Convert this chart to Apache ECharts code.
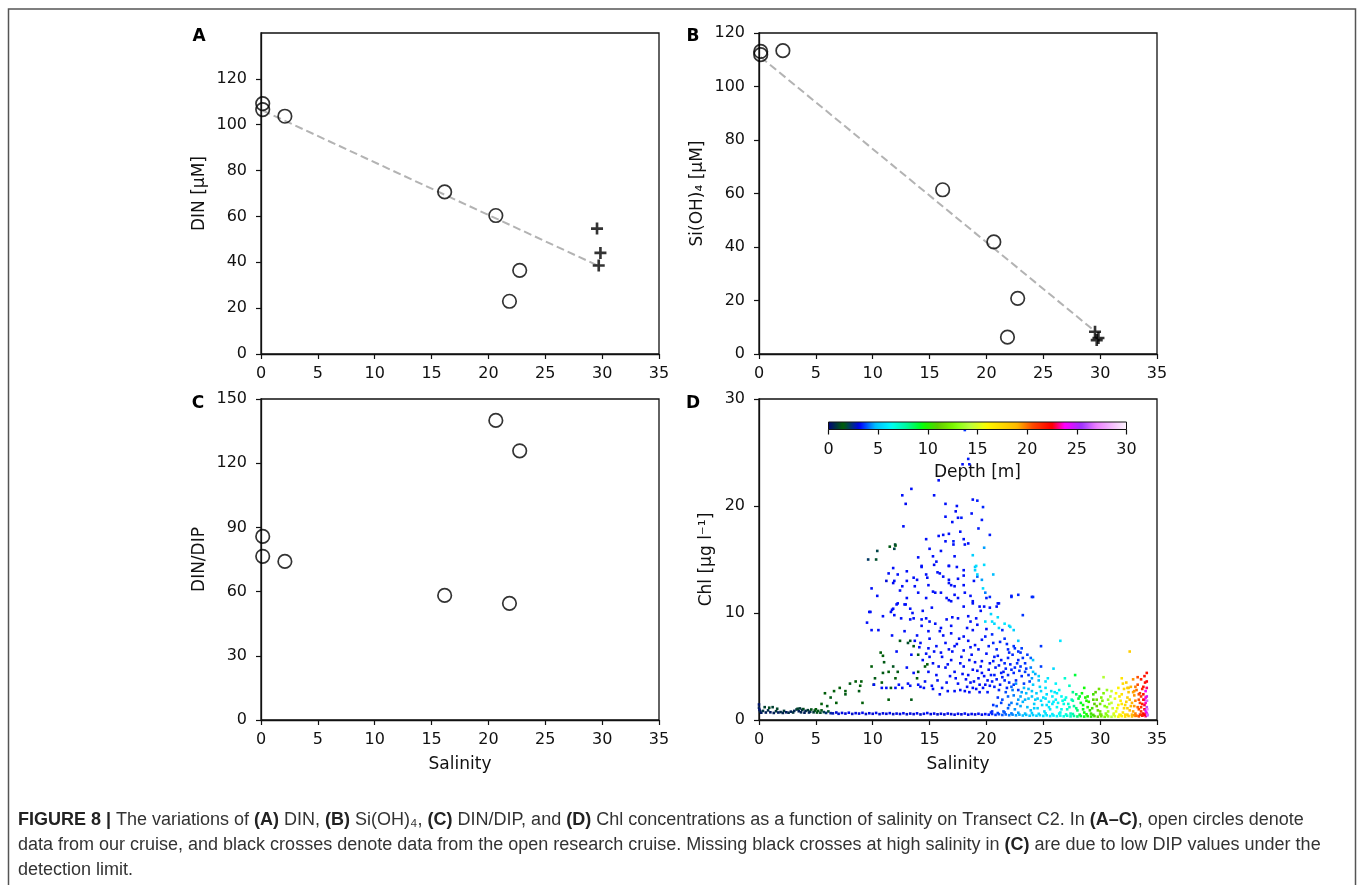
<!DOCTYPE html>
<html><head><meta charset="utf-8">
<script src="https://cdn.jsdelivr.net/npm/echarts@6/dist/echarts.min.js"></script>
<style>html,body{margin:0;padding:0;background:#fff}#c{width:1357px;height:885px}</style>
</head><body><div id="c"></div>
<script>
// ---------------- DATA ----------------
const xTicks = [0, 5, 10, 15, 20, 25, 30, 35];
const yTicksA = [0, 20, 40, 60, 80, 100, 120];
const depthTicks = [0, 5, 10, 15, 20, 25, 30];

// our cruise (open circles)
const salOur = [0.15, 0.15, 2.1, 16.15, 20.65, 21.85, 22.75];
const dinOur = [109.2, 106.6, 103.7, 70.7, 60.4, 23.0, 36.5];
const siOur = [113.1, 111.9, 113.4, 61.4, 41.9, 6.3, 20.8];
const ratioOur = [85.8, 76.5, 74.1, 58.2, 140.0, 54.5, 125.8];
// open research cruise (crosses)
const salOpen = [29.55, 29.85, 29.7];
const dinOpen = [54.7, 44.1, 38.6];
const siOpen = [8.3, 6.0, 5.2];
// mixing lines (end points)
const mixDIN = [[0.15, 106.2], [29.6, 38.6]];
const mixSi = [[0.15, 111.0], [29.6, 8.3]];

// Panel D : [salinity, Chl, depth]
const chlBand = [
[0.0,1.45,0.3],[0.0,1.15,0.5],[0.05,0.95,0.2],[0.1,0.8,0.6],[0.2,0.68,0.4],[0.35,0.85,0.8],[0.5,1.2,1.0],[0.6,0.7,0.5],[0.8,0.9,0.7],[0.9,1.15,1.2],[1.0,0.72,0.4],[1.2,1.2,1.0],[1.3,0.66,0.5],[1.5,0.82,0.9],[1.6,1.05,1.1],[1.7,0.7,0.4],[1.9,0.74,0.7],[2.1,0.66,0.6],[2.2,0.85,0.9],[2.4,0.72,0.4],[2.6,0.68,0.7],[2.8,0.78,0.5],[3.0,0.7,0.8],[3.1,0.85,0.6],[3.3,0.98,0.8],[3.4,1.05,1.1],[3.5,0.82,0.5],[3.6,1.08,0.9],[3.7,0.72,0.6],[3.8,0.95,0.7],[3.9,1.02,1.2],[4.0,0.68,0.5],[4.1,0.85,0.6],[4.3,0.92,1.0],[4.4,0.7,0.5],[4.5,0.78,0.7],[4.6,0.98,1.3],[4.8,0.72,0.9],[4.9,0.88,1.2],[5.0,1.0,1.5],[5.1,0.7,1.3],[5.2,0.85,1.6],[5.4,0.68,1.8],[5.5,0.9,1.6],[5.7,0.74,2.0],[5.9,0.66,2.3],[6.1,0.8,1.8],[6.3,0.64,2.6],
[6.5,0.62,2.8],[6.8,0.7,3.0],[7.0,0.58,2.9],[7.3,0.66,3.1],[7.6,0.6,3.0],[7.9,0.68,3.2],[8.2,0.57,2.9],[8.5,0.64,3.1],[8.8,0.6,3.0],[9.1,0.67,3.2],[9.4,0.56,2.9],[9.7,0.63,3.1],[10.0,0.58,3.0],[10.3,0.66,3.2],[10.6,0.55,2.9],[10.9,0.62,3.1],[11.2,0.58,3.0],[11.5,0.64,3.2],[11.8,0.55,2.9],[12.1,0.6,3.1],[12.4,0.56,3.0],[12.7,0.63,3.2],[13.0,0.54,2.9],[13.3,0.6,3.1],[13.6,0.55,3.0],[13.9,0.62,3.2],[14.2,0.52,2.9],[14.5,0.58,3.1],[14.8,0.65,3.3],[15.1,0.55,3.0],[15.4,0.6,3.2],[15.7,0.53,2.9],[16.0,0.58,3.1],[16.3,0.52,3.0],[16.6,0.6,3.2],[16.9,0.55,3.0],[17.2,0.5,3.1],[17.5,0.58,3.2],[17.8,0.53,3.0],[18.1,0.6,3.3],[18.4,0.5,3.1],[18.7,0.56,3.2],[19.0,0.52,3.0],[19.3,0.58,3.3],[19.6,0.5,3.1],[19.9,0.55,3.3],
[20.2,0.5,3.4],[20.5,0.56,3.5],[20.8,0.48,3.6],[21.1,0.54,3.8],[21.4,0.47,3.9],[21.7,0.52,4.0],[22.0,0.45,4.2],[22.3,0.5,4.3],[22.6,0.44,4.5],[22.9,0.5,4.6],[23.2,0.42,4.8],[23.5,0.48,4.9],[23.8,0.4,5.0],[24.1,0.46,5.2],[24.4,0.4,5.3],[24.7,0.45,5.5],[25.0,0.38,5.6],[25.3,0.44,5.8],[25.6,0.37,5.9],[25.9,0.42,6.0],[26.2,0.36,6.2],[26.5,0.41,6.4],[26.8,0.35,6.6],
[27.1,0.4,6.9],[27.4,0.34,7.2],[27.7,0.38,7.8],[28.0,0.33,8.4],[28.3,0.37,9.0],[28.6,0.32,9.4],[28.9,0.36,9.8],[29.2,0.32,10.2],[29.5,0.36,10.8],[29.8,0.31,11.3],[30.1,0.35,12.0],[30.4,0.3,12.6],[30.7,0.34,13.4],[31.0,0.3,14.2],[31.3,0.35,15.0],[31.6,0.31,15.8],[31.9,0.36,16.5],[32.2,0.32,17.2],[32.5,0.37,18.0],[32.8,0.33,18.8],[33.1,0.38,19.6],[33.4,0.34,20.4],[33.7,0.4,21.2],[34.0,0.36,23.0],[34.15,0.45,25.5],
[20.4,0.7,3.5],[21.0,0.65,3.7],[21.6,0.7,3.9],[22.2,0.62,4.2],[22.8,0.68,4.5],[23.4,0.6,4.8],[24.0,0.65,5.1],[24.6,0.58,5.4],[25.2,0.62,5.7],[25.8,0.55,6.0],[26.4,0.6,6.3],[27.0,0.52,6.8],[27.6,0.56,7.6],[28.2,0.5,8.8],[28.8,0.54,9.7],[29.4,0.48,10.6],[30.0,0.52,11.8],[30.6,0.46,13.2],[31.2,0.5,14.8],[31.8,0.45,16.4],[32.4,0.5,17.8],[33.0,0.45,19.5],[33.6,0.5,21.2],[34.1,0.6,25.0]
];
const chlArm = [
[5.5,1.5,1.5],[6.0,1.3,1.6],[6.8,1.6,1.5],[5.8,2.5,1.5],[6.3,2.1,1.6],[7.1,3.0,1.5],[7.6,2.7,1.5],[8.0,3.4,1.6],[8.5,3.6,1.5],[8.9,3.2,1.5],[8.8,2.7,1.6],[9.1,1.6,1.5],[10.1,3.3,1.7],[9.9,5.0,1.5],[10.9,6.0,1.5],[10.9,4.4,1.6],[11.4,4.5,1.5],[11.8,5.0,1.7],[12.4,7.4,1.6],[13.1,7.2,1.8],[14.0,6.1,1.6],[14.6,5.0,1.5],[13.4,1.9,1.6],[11.4,1.9,1.5],[10.7,6.3,1.5],[11.0,5.4,1.6],[12.2,4.5,1.6],[12.0,3.9,1.5],[11.6,3.0,1.6],[10.8,3.5,1.5],[10.2,3.9,1.6],[9.0,3.6,1.5],[7.6,2.4,1.6],[6.6,2.7,1.5],[13.3,7.4,1.7],[13.6,6.9,1.6],[14.8,5.2,1.5],[14.0,4.5,1.6],[13.9,3.9,1.5],[12.0,16.3,1.5],[11.5,16.2,1.6]
];
const chlBloom = [
[18.1,27.1,3.6],[18.4,24.4,3.4],[17.9,23.9,3.3],[18.5,23.9,3.3],[15.8,22.4,3.3],[13.4,21.6,3.3],[12.6,21.0,3.3],[12.9,20.2,3.2],[15.4,21.0,3.3],[16.4,20.2,3.3],[17.4,20.0,3.3],[17.3,19.5,3.2],[17.5,18.9,3.3],[17.8,18.9,3.4],[18.8,20.6,3.3],[19.2,20.5,3.4],[19.7,19.9,3.5],[19.6,18.7,3.4],[12.7,18.1,3.3],[20.3,17.3,3.4],[11.97,16.4,1.8],[11.9,16.0,2.0],[10.4,15.8,2.0],[9.6,15.0,2.2],[10.3,15.0,1.8],[14.7,16.9,3.3],[15.0,16.0,3.3],[15.3,15.3,3.3],[15.4,14.5,3.2],[15.8,17.2,3.3],[16.2,17.3,3.3],[16.7,17.4,3.3],[16.4,16.7,3.3],[17.1,16.4,3.3],[17.1,16.7,3.4],[18.0,16.9,3.3],[18.1,16.4,3.3],[18.4,16.5,3.3],[18.8,15.4,5.2],[19.8,16.1,4.5],[19.8,14.5,5.5],[19.0,14.3,5.0],[19.0,14.0,5.4],[17.2,15.3,3.3],[17.4,14.3,3.3],[16.7,14.4,3.3],[14.3,14.3,3.3],[13.6,13.3,3.3],[13.0,13.0,3.3],[13.9,13.1,3.3],[14.8,13.3,3.3],[15.7,13.8,3.3],[16.2,13.4,3.3],[16.7,13.1,3.3],[16.9,12.6,3.3],[17.5,13.2,3.3],[18.0,13.5,3.3],[19.2,13.4,4.0],[19.6,13.1,4.5],[20.6,13.6,4.8],[19.7,12.3,5.5],[20.3,11.5,3.5],[21.1,10.9,3.4],[22.2,11.5,3.5],[22.8,11.7,3.5],[24.1,11.5,3.6],[11.2,13.0,3.0],[11.8,12.8,3.2],[12.4,12.1,3.3],[12.1,10.8,3.3],[11.8,10.4,3.3],[9.9,12.3,3.3],[10.4,11.6,3.3],[9.7,10.1,3.3],[9.5,9.1,3.3],[10.9,9.7,3.3],[11.6,10.1,3.3],[12.5,9.5,3.3],[12.8,10.8,3.3],[13.3,10.4,3.3],[13.6,9.5,3.3],[14.4,10.2,3.3],[14.7,9.5,3.3],[15.3,12.0,3.3],[16.0,11.9,3.3],[16.5,11.4,3.3],[16.9,11.1,3.3],[17.5,11.4,3.3],[18.0,10.6,3.3],[18.6,11.6,3.3],[18.8,10.9,3.3],[19.4,10.6,3.3],[20.0,11.4,3.4],[20.3,10.5,3.3],[20.9,10.6,3.3],
[15.6,14.8,3.3],[16.7,14.4,3.3],[11.8,14.2,3.3],[11.4,13.7,3.3],[13.0,13.9,3.3],[14.3,14.4,3.3],[14.7,13.6,3.3],[15.9,13.7,3.3],[18.0,14.0,3.3],[19.1,14.4,5.6],[19.2,13.6,5.5],[11.9,13.0,3.3],[12.6,12.5,3.3],[13.7,12.5,3.3],[14.9,12.6,3.3],[16.7,12.8,3.3],[17.2,12.5,3.3],[18.0,12.6,3.3],[18.9,13.0,3.3],[19.9,11.9,4.2],[12.2,10.9,3.3],[12.9,10.8,3.3],[14.0,11.9,3.3],[14.7,11.4,3.3],[15.5,11.9,3.3],[16.7,11.2,3.3],[17.2,11.7,3.3],[18.1,11.9,3.3],[18.8,11.1,3.3],[19.8,10.6,3.3],[21.0,10.9,3.3],[22.2,11.6,3.4],[24.0,11.5,3.5],
[16.0,8.6,3.3],[18.6,9.2,3.3],[17.0,9.6,3.3],[20.4,9.9,5.3],[21.0,9.6,5.6],[19.5,10.2,3.3],[15.2,10.5,3.3],[13.0,11.4,3.3],[12.2,13.6,3.3],[14.0,15.2,3.3],[16.0,15.8,3.3],[17.7,17.6,3.3],[18.7,19.3,3.3],[19.3,17.9,3.4],[17.0,18.5,3.3],[16.4,19.0,3.3]
];
const chlCore = [
[9.9,8.4,3.3],[10.5,8.4,3.3],[11.7,7.9,3.3],[12.8,8.3,3.3],[14.9,8.3,3.3],[15.9,8.3,3.3],[16.9,8.1,3.3],[18.0,7.8,3.3],[18.8,8.4,3.3],[19.6,7.5,3.4],[20.5,8.0,3.5],[21.6,7.6,3.6],[22.8,7.4,5.0],[22.4,6.9,3.6],[23.1,6.7,3.7],[24.8,6.9,3.6],[26.5,7.4,5.8],[13.7,7.4,3.3],[14.1,6.8,3.3],[14.9,6.7,3.3],[15.6,6.9,3.3],[16.4,7.2,3.3],[17.2,6.9,3.3],[18.4,7.4,3.3],[19.0,7.0,3.3],[20.2,6.9,3.4],[20.9,6.6,3.5],[21.9,6.6,3.5],[22.8,6.4,3.6],[12.1,6.4,3.3],[13.4,6.1,3.3],[15.0,5.9,3.3],[16.1,5.9,3.3],[16.9,5.6,3.3],[17.8,5.9,3.3],[18.7,6.1,3.3],[19.6,5.5,3.3],[20.7,5.9,3.4],[21.3,5.6,3.4],[21.9,5.8,3.5],[22.8,5.6,3.5],[23.4,5.3,3.6],[24.1,5.6,5.0],[24.1,4.5,5.2],[24.8,5.0,3.7],[25.9,4.8,5.5],[13.0,4.9,3.3],[13.6,4.4,3.3],[14.9,4.5,3.3],[15.6,4.2,3.3],[16.4,4.9,3.3],[17.2,4.5,3.3],[18.0,5.0,3.3],[18.4,4.2,3.3],[18.8,4.7,3.3],[19.6,4.4,3.3],[20.2,4.7,3.3],[20.7,4.2,3.4],[21.5,4.5,3.4],[22.4,4.4,3.5],[23.1,4.1,3.5],[23.7,4.2,3.6],[10.1,3.3,3.3],[10.8,3.0,3.3],[11.2,3.0,3.3],[12.0,3.0,3.3],[12.6,3.0,3.3],[13.3,3.2,3.3],[14.0,3.3,3.3],[15.9,2.4,3.3],[17.2,2.7,3.3],[17.7,2.8,3.3],[18.1,2.7,3.3],[18.8,3.0,3.3],[19.1,2.9,3.3],[19.9,3.3,3.3],[20.5,3.6,3.4],[20.7,3.1,3.4],[21.2,3.3,3.4],[21.8,3.0,3.5],[22.2,3.1,4.0],[22.8,2.8,3.6],
[17.5,3.4,3.3],[18.2,3.8,3.3],[18.6,3.5,3.3],[19.3,3.9,3.3],[19.8,4.1,3.3],[20.1,3.7,3.3],[20.4,4.2,3.4],[20.8,4.9,3.4],[21.1,5.1,3.4],[21.4,4.0,3.4],[21.7,4.8,3.5],[22.1,5.2,3.5],[22.5,4.9,3.5],[22.9,4.6,3.6],[23.2,5.8,3.6],[23.5,4.8,3.6],[23.8,3.6,3.7],[22.6,3.7,3.5],[22.0,3.5,3.5],[21.6,3.7,3.5],[19.5,5.0,3.3],[19.0,5.4,3.3],[18.5,5.6,3.3],[20.3,5.3,3.3],[20.0,6.2,3.3],[21.0,6.0,3.4],[22.3,6.1,3.5],[23.0,6.3,3.6],[17.0,6.4,3.3],[16.6,5.2,3.3],[15.3,5.3,3.3],[14.4,5.6,3.3],[13.9,7.9,3.3],[15.0,7.6,3.3],[16.2,7.9,3.3],[17.6,7.6,3.3],[18.3,8.6,3.3],[19.2,8.9,3.3],[20.0,8.5,3.3],[21.1,8.6,5.5],[21.6,9.0,5.8],[22.0,8.8,5.3],[16.9,8.8,3.3],[15.5,9.0,3.3],[14.3,8.8,3.3],
[9.8,10.1,3.3],[11.7,10.3,3.3],[11.9,9.8,3.3],[13.3,9.4,3.3],[13.5,10.0,3.3],[14.3,9.4,3.3],[15.0,9.2,3.3],[16.5,9.4,3.3],[17.5,9.5,3.3],[18.4,9.7,3.3],[19.1,9.5,3.3],[19.9,9.2,5.5],[20.5,9.2,5.6],[20.7,9.0,5.4],[21.4,8.4,3.5],[22.1,8.7,5.6],[22.4,8.4,5.2],[23.2,9.8,3.6],
[14.2,3.1,3.3],[14.6,3.6,3.3],[15.2,3.2,3.3],[15.7,3.7,3.3],[16.1,3.0,3.3],[16.5,3.5,3.3],[16.8,4.1,3.3],[17.3,3.9,3.3],[17.9,4.3,3.3],[18.3,3.1,3.3],[18.9,3.6,3.3],[19.4,3.3,3.3],[19.7,3.0,3.3],[20.3,3.2,3.4],[20.9,3.8,3.4],[21.3,4.4,3.4],[21.9,4.2,3.5],[22.2,4.7,3.5],[22.7,5.3,3.6],[23.0,5.0,3.6],[23.4,4.5,3.7],[23.9,4.9,4.2],[24.3,4.3,4.6],[24.6,3.7,4.8],[23.6,6.1,3.7],[23.9,5.8,4.0],[22.5,6.7,3.6],[21.8,7.1,3.5],[21.2,7.3,3.5],[20.6,7.2,3.5],[19.9,7.8,3.4],[19.3,6.6,3.3],[18.6,6.8,3.3],[18.0,6.5,3.3],[17.4,7.1,3.3],[16.7,6.6,3.3],[16.0,6.3,3.3],[15.4,6.4,3.3],[14.7,6.2,3.3],[14.2,7.2,3.3],[15.8,5.0,3.3],[17.7,5.3,3.3],[19.2,4.6,3.3],[20.6,5.5,3.4],[21.6,5.3,3.5],[22.0,6.3,3.5],[23.3,3.4,3.7],[24.0,3.9,4.5],[22.4,3.3,3.6],[21.1,2.8,3.5],[20.1,2.6,3.4],[19.4,2.6,3.3],[18.5,2.6,3.3],[16.6,2.7,3.3],[15.3,2.9,3.3],[14.5,3.0,3.3],[13.1,3.4,3.3],[12.3,3.3,3.3]
];
const chlShelf = [
[20.6,1.4,3.6],[20.9,1.3,3.8],[21.3,1.6,3.7],[21.9,1.1,4.0],[21.0,2.1,3.6],[20.5,0.8,3.5],[21.5,0.8,3.9],[22.2,1.6,4.2],[22.5,1.0,4.4],[23.0,1.3,4.6],[21.9,2.2,4.0],[22.8,1.9,4.5],[23.2,1.7,4.7],
[23.5,2.5,4.8],[24.0,2.7,5.0],[24.4,2.5,5.2],[24.8,2.7,5.4],[25.3,2.4,5.6],[25.7,2.7,5.8],[26.2,2.5,6.0],[26.6,2.2,6.3],[27.0,2.1,6.6],[27.5,1.9,7.2],[27.9,2.4,8.5],[28.4,2.5,9.5],[28.7,2.1,9.8],[28.9,2.2,10.0],[29.4,2.4,10.5],[29.7,1.9,11.5],[30.1,2.1,12.5],[30.7,1.9,13.5],[31.0,2.7,14.5],[31.4,2.5,16.0],[31.7,2.2,16.5],[32.1,2.9,17.5],[32.3,3.5,18.0],[32.5,3.0,18.5],[32.7,3.1,19.0],[33.0,2.7,19.5],[33.3,3.3,20.5],[33.5,2.5,21.0],[33.6,3.8,21.5],[33.8,3.1,22.0],[33.9,4.1,22.0],[34.0,2.7,24.0],[33.9,1.9,24.5],
[30.3,4.0,14.0],[31.9,3.9,17.0],[34.1,4.4,22.0],[32.6,6.4,18.0],[27.8,4.2,9.0],[26.9,3.9,7.0],[25.4,3.9,5.8],[24.6,4.1,5.4],
[23.6,1.2,4.8],[23.9,0.9,5.0],[24.2,1.5,5.2],[24.5,1.1,5.3],[24.8,1.8,5.5],[25.1,0.8,5.6],[25.3,1.4,5.7],[25.6,1.0,5.9],[25.9,1.7,6.0],[26.2,1.2,6.2],[26.5,0.7,6.4],[26.8,1.5,6.6],[27.1,1.0,7.0],[27.4,0.6,7.3],[27.7,1.3,7.8],[28.0,0.9,8.5],[28.3,1.6,9.2],[28.6,0.7,9.5],[28.9,1.2,10.0],[29.2,0.6,10.5],[29.5,1.5,11.0],[29.8,0.9,11.5],[30.1,0.5,12.0],[30.4,1.3,12.8],[30.7,0.8,13.5],[31.0,1.6,14.5],[31.2,0.6,15.0],[31.5,1.1,15.8],[31.8,1.8,16.5],[32.0,0.7,17.0],[32.2,1.4,17.5],[32.4,2.1,18.0],[32.6,0.9,18.5],[32.8,1.6,19.0],[33.0,2.3,19.5],[33.1,0.6,19.8],[33.3,1.2,20.2],[33.4,1.9,20.5],[33.6,0.8,21.0],[33.7,1.5,21.5],[33.8,2.4,22.0],[33.9,1.0,22.5],[34.0,1.6,23.5],[34.05,0.7,24.0],[34.1,2.2,25.0],[34.1,1.2,26.0],[34.15,0.5,26.5],[34.1,3.0,23.0],[33.95,3.5,22.0],
[31.3,2.0,15.5],[31.6,1.4,16.0],[31.9,2.4,17.0],[32.1,1.1,17.2],[32.3,1.7,17.8],[32.5,2.6,18.3],[32.7,1.3,18.8],[32.9,0.8,19.2],[33.1,1.8,19.8],[33.2,2.8,20.0],[33.4,1.0,20.5],[33.5,1.6,20.8],[33.6,2.2,21.2],[33.7,2.9,21.5],[33.8,0.6,22.2],[33.9,1.4,22.8],[32.0,3.4,17.3],[32.9,3.8,19.5],[33.3,4.0,20.5],
[22.3,2.8,4.2],[22.6,3.4,4.4],[23.0,2.2,4.6],[23.3,3.0,4.8],[23.7,2.0,5.0],[24.1,3.3,5.2],[24.3,1.9,5.3],[24.7,3.1,5.5],[25.0,2.1,5.6],[25.2,3.0,5.8],[25.5,1.7,5.9],[25.8,2.2,6.0],[26.1,1.9,6.1],[26.4,2.8,6.3],[26.7,1.8,6.5],[27.2,1.5,7.0],[27.6,2.6,8.0],[28.1,2.0,9.0],[28.5,1.4,9.5],[29.0,1.7,10.2],[29.3,1.1,10.6],[29.6,2.6,11.0],[30.0,1.5,12.0],[30.3,2.5,12.5],[30.6,1.2,13.2],[30.9,2.2,14.0],
[21.4,1.9,3.8],[21.7,2.6,3.8],[22.0,1.4,4.0],[22.4,2.3,4.2],[22.7,1.5,4.3],[23.1,2.6,4.5],[23.4,1.9,4.7],[23.7,2.9,4.8],[24.0,2.2,5.0],[24.2,1.1,5.1],[24.5,2.0,5.2],[24.9,1.4,5.4],[25.2,2.0,5.6],[25.5,1.2,5.8],[25.8,1.5,5.9],[26.0,2.6,6.0],[26.3,1.6,6.2],[26.6,1.0,6.4],[26.9,1.9,6.7],[27.3,1.2,7.1],[27.6,1.8,7.6],[27.9,1.1,8.3],[28.2,2.2,9.0],[28.5,1.0,9.4],[28.8,1.8,9.8],[29.1,0.9,10.2],[29.4,1.9,10.8],[29.7,1.3,11.4],[30.0,0.8,12.0],[30.2,1.8,12.4],[30.5,0.6,12.9],[30.8,1.5,13.8],[31.1,1.1,14.8],[31.4,0.8,15.5],[31.7,0.5,16.2],[31.9,1.5,16.8],[32.2,0.5,17.4],[32.4,1.1,17.9],[32.6,1.9,18.4],[32.8,0.5,18.9],[33.0,1.3,19.4],[33.2,0.4,19.9],[33.4,2.4,20.5],[33.5,0.5,20.9],[33.6,1.2,21.2],[33.7,0.4,21.5],[33.8,1.9,22.0],[33.9,0.5,22.5],[34.0,2.1,23.5],[34.0,0.9,24.5],[34.1,3.6,22.5],[34.12,1.8,26.5],[34.15,1.0,27.0],[32.9,2.6,19.3],[32.4,3.0,18.0],[31.6,3.0,16.2],[33.1,3.1,19.8],[30.6,2.8,13.3],[29.9,2.9,11.8],[28.6,3.0,9.6],[27.3,3.2,7.2],[26.1,3.4,6.2],[25.2,3.6,5.7]
];

// ---------------- COLORMAP (matplotlib gist_ncar segments) ----------------
const NCAR = {
 r: [[0,0],[0.3098,0],[0.3725,0.3993],[0.4235,0.5003],[0.5333,1],[0.7922,1],[0.8471,0.6218],[0.898,0.9235],[1,0.9961]],
 g: [[0,0],[0.051,0.3722],[0.1059,0],[0.1569,0.7202],[0.1608,0.7537],[0.1647,0.7752],[0.2157,1],[0.2588,0.9804],[0.2706,0.9804],[0.3176,1],[0.3686,0.8081],[0.4275,1],[0.5216,1],[0.6314,0.7292],[0.6863,0.2796],[0.7451,0],[0.7922,0],[0.8431,0.1753],[0.898,0.5],[1,0.9725]],
 b: [[0,0.502],[0.051,0.0222],[0.1098,1],[0.2039,1],[0.2627,0.6145],[0.3216,0],[0.4157,0],[0.4745,0.2342],[0.5333,0],[0.749,0],[0.7922,1],[0.898,1],[1,0.9961]]
};
function seg(arr, t) {
  for (let i = 1; i < arr.length; i++) {
    if (t <= arr[i][0]) {
      const a = arr[i-1], b = arr[i];
      const f = (t - a[0]) / (b[0] - a[0] || 1);
      return a[1] + f * (b[1] - a[1]);
    }
  }
  return arr[arr.length-1][1];
}
function ncar(t) {
  const r = Math.round(seg(NCAR.r, t) * 255), g = Math.round(seg(NCAR.g, t) * 255), b = Math.round(seg(NCAR.b, t) * 255);
  return 'rgb(' + r + ',' + g + ',' + b + ')';
}
const NSTOP = 120;
const cmapColors = [], gradStops = [];
for (let i = 0; i <= NSTOP; i++) { const t = i / NSTOP; cmapColors.push(ncar(t)); gradStops.push({offset: t, color: ncar(t)}); }

// ---------------- CHART ----------------
const chart = echarts.init(document.getElementById('c'), null, {renderer: 'canvas', width: 1357, height: 885});
const F = 'DejaVu Sans';
const TICK = 16;
const NAME = 17;
const grids = [
  {left: 261, top: 33, width: 398, height: 321},
  {left: 759, top: 33, width: 398, height: 321},
  {left: 261, top: 399, width: 398, height: 321},
  {left: 759, top: 399, width: 398, height: 321},
  {left: 828.5, top: 422, width: 298, height: 7.5}
].map((g, i) => Object.assign({show: i < 4, borderColor: '#111', borderWidth: 1.3, backgroundColor: 'transparent', containLabel: false, outerBoundsMode: 'none'}, g));

function xAx(gi, name) {
  return {type: 'value', gridIndex: gi, min: 0, max: 35, interval: 5,
    axisLine: {show: true, onZero: false, lineStyle: {color: '#111', width: 1.3}},
    axisTick: {show: true, inside: false, length: 5, lineStyle: {color: '#111', width: 1.2}},
    axisLabel: {show: true, color: '#111', fontFamily: F, fontSize: TICK, margin: 12},
    splitLine: {show: false},
    name: name || '', nameLocation: 'middle', nameGap: 36,
    nameTextStyle: {color: '#111', fontFamily: F, fontSize: NAME}};
}
function yAx(gi, max, interval, name, gap) {
  return {type: 'value', gridIndex: gi, min: 0, max: max, interval: interval,
    axisLine: {show: true, onZero: false, lineStyle: {color: '#111', width: 1.3}},
    axisTick: {show: true, inside: false, length: 5, lineStyle: {color: '#111', width: 1.2}},
    axisLabel: {show: true, color: '#111', fontFamily: F, fontSize: TICK, margin: 14},
    splitLine: {show: false},
    name: name, nameLocation: 'middle', nameGap: gap,
    nameTextStyle: {color: '#111', fontFamily: F, fontSize: NAME}};
}
const yA = yAx(0, 140, 20, 'DIN [μM]', 53);
yA.axisLabel.customValues = yTicksA;
yA.axisTick.customValues = yTicksA;

const circleStyle = {color: 'rgba(0,0,0,0)', borderColor: '#000', borderWidth: 1.7};
const plusPath = 'path://M3.9,0H6.1V3.9H10V6.1H6.1V10H3.9V6.1H0V3.9H3.9Z';
const zip = (a, b) => a.map((v, i) => [v, b[i]]);
function circles(xi, data) {
  return {type: 'scatter', xAxisIndex: xi, yAxisIndex: xi, data: data, symbol: 'circle', symbolSize: 13.5,
    itemStyle: circleStyle, z: 3, silent: true};
}
function crosses(xi, data) {
  return {type: 'scatter', xAxisIndex: xi, yAxisIndex: xi, data: data, symbol: plusPath, symbolSize: 12,
    itemStyle: {color: '#000'}, z: 4, silent: true};
}
function mixLine(xi, data) {
  return {type: 'line', xAxisIndex: xi, yAxisIndex: xi, data: data, symbol: 'none',
    lineStyle: {color: '#b3b3b3', width: 2, type: [8, 4]}, z: 2, silent: true};
}
const chlAll = [].concat(chlBand, chlArm, chlCore, chlBloom, chlShelf);

const panelLetter = (txt, x, y) => ({type: 'text', x: x, y: y, z: 20,
  style: {text: txt, fill: '#000', fontFamily: F, fontSize: 17, fontWeight: 'bold', align: 'center', verticalAlign: 'middle'}});

const capFont = 'Liberation Sans';
const capSize = 18;
const capRich = {
  n: {fontFamily: capFont, fontSize: capSize, fill: '#333'},
  b: {fontFamily: capFont, fontSize: capSize, fill: '#222', fontWeight: 'bold'}
};
const capLine = (txt, y) => ({type: 'text', x: 18, y: y, z: 20,
  style: {text: txt, rich: capRich, fill: '#333', fontFamily: capFont, fontSize: capSize, align: 'left', verticalAlign: 'middle'}});

const option = {
  animation: false,
  backgroundColor: '#fff',
  grid: grids,
  xAxis: [xAx(0), xAx(1), xAx(2, 'Salinity'), xAx(3, 'Salinity'),
    {type: 'value', gridIndex: 4, min: 0, max: 30, interval: 5, position: 'bottom',
     axisLine: {show: false},
     axisTick: {show: true, inside: false, length: 5, lineStyle: {color: '#111', width: 1.2}},
     axisLabel: {show: true, color: '#111', fontFamily: F, fontSize: TICK, margin: 12},
     splitLine: {show: false},
     name: 'Depth [m]', nameLocation: 'middle', nameGap: 35,
     nameTextStyle: {color: '#111', fontFamily: F, fontSize: NAME}}],
  yAxis: [yA,
    yAx(1, 120, 20, 'Si(OH)₄ [μM]', 53),
    yAx(2, 150, 30, 'DIN/DIP', 53),
    yAx(3, 30, 10, 'Chl [μg l⁻¹]', 44),
    {type: 'value', gridIndex: 4, min: 0, max: 1, show: false}],
  visualMap: [{type: 'continuous', show: false, min: 0, max: 30, dimension: 2, seriesIndex: 8,
    inRange: {color: cmapColors}}],
  series: [
    mixLine(0, mixDIN), circles(0, zip(salOur, dinOur)), crosses(0, zip(salOpen, dinOpen)),
    mixLine(1, mixSi), circles(1, zip(salOur, siOur)), crosses(1, zip(salOpen, siOpen)),
    circles(2, zip(salOur, ratioOur)),
    {type: 'scatter', xAxisIndex: 4, yAxisIndex: 4, data: [], silent: true},
    {type: 'scatter', xAxisIndex: 3, yAxisIndex: 3, data: chlAll, symbol: 'rect', symbolSize: 2.6,
      itemStyle: {opacity: 1}, z: 2, silent: true}
  ],
  graphic: [
    {type: 'rect', x: 8.5, y: 9, z: 0, silent: true, shape: {x: 0, y: 0, width: 1347, height: 900},
      style: {fill: 'none', stroke: '#555', lineWidth: 1.5}},
    {type: 'rect', x: 828.5, y: 422, z: 30, silent: true, shape: {x: 0, y: 0, width: 298, height: 7.5},
      style: {fill: new echarts.graphic.LinearGradient(0, 0, 1, 0, gradStops), stroke: '#111', lineWidth: 1}},
    panelLetter('A', 199, 37), panelLetter('B', 693, 37), panelLetter('C', 198, 404), panelLetter('D', 693, 404),
    capLine('{b|FIGURE 8 |}{n| The variations of }{b|(A)}{n| DIN, }{b|(B)}{n| Si(OH)₄, }{b|(C)}{n| DIN/DIP, and }{b|(D)}{n| Chl concentrations as a function of salinity on Transect C2. In }{b|(A–C)}{n|, open circles denote}', 820),
    capLine('{n|data from our cruise, and black crosses denote data from the open research cruise. Missing black crosses at high salinity in }{b|(C)}{n| are due to low DIP values under the}', 845),
    capLine('{n|detection limit.}', 870)
  ]
};
chart.setOption(option);
</script>
</body></html>
